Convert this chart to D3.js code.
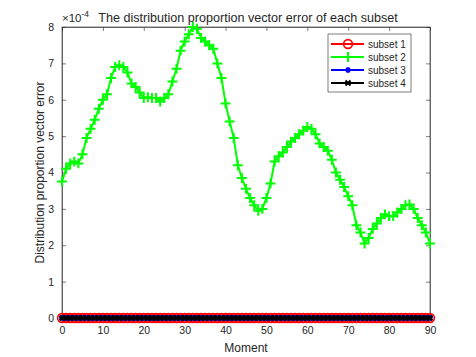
<!DOCTYPE html>
<html>
<head>
<meta charset="utf-8">
<script src="https://cdn.jsdelivr.net/npm/d3@7"></script>
<style>
  body { margin: 0; background: #fff; }
  text { font-family: "Liberation Sans", Arial, sans-serif; fill: #262626; }
</style>
</head>
<body>
<div id="chart"></div>
<script>
const margin = { top: 27, right: 46, bottom: 39, left: 62 },
      width = 476 - margin.left - margin.right,
      height = 357 - margin.top - margin.bottom;

// moments 0..90
const moments = d3.range(0, 91);
const xTicks = [0, 10, 20, 30, 40, 50, 60, 70, 80, 90];
const yTicks = [0, 1, 2, 3, 4, 5, 6, 7, 8];

// values in units of 1e-4
const subset1 = moments.map(() => 0);
const subset2 = [
  3.75, 4.1, 4.25, 4.3, 4.25, 4.5, 4.95, 5.2, 5.45, 5.75,
  6.0, 6.15, 6.6, 6.9, 6.95, 6.9, 6.75, 6.45, 6.35, 6.2,
  6.05, 6.07, 6.05, 6.05, 5.95, 6.05, 6.15, 6.5, 6.85, 7.35,
  7.6, 7.8, 8.0, 7.95, 7.7, 7.6, 7.5, 7.4, 7.0, 6.6,
  5.9, 5.4, 4.95, 4.2, 3.85, 3.55, 3.3, 3.1, 2.95, 3.0,
  3.3, 3.7, 4.3, 4.45, 4.55, 4.7, 4.85, 4.95, 5.05, 5.15,
  5.25, 5.2, 5.05, 4.8, 4.7, 4.6, 4.35, 4.0, 3.8, 3.6,
  3.35, 3.1, 2.55, 2.35, 2.05, 2.2, 2.45, 2.6, 2.75, 2.85,
  2.8, 2.8, 2.9, 3.0, 3.1, 3.12, 3.0, 2.75, 2.55, 2.35, 2.05
];
const subset3 = moments.map(() => 0);
const subset4 = moments.map(() => 0);

const seriesNames = ["subset 1", "subset 2", "subset 3", "subset 4"];
const seriesColors = ["#ff0000", "#00ff00", "#0000ff", "#000000"];

const series = [
  { name: seriesNames[0], values: subset1, color: seriesColors[0], marker: "circle" },
  { name: seriesNames[1], values: subset2, color: seriesColors[1], marker: "plus" },
  { name: seriesNames[2], values: subset3, color: seriesColors[2], marker: "asterisk" },
  { name: seriesNames[3], values: subset4, color: seriesColors[3], marker: "times" }
];

const x = d3.scaleLinear().domain([0, 90]).range([0, width]);
const y = d3.scaleLinear().domain([0, 8]).range([height, 0]);

const svg = d3.select("#chart").append("svg")
    .attr("width", 476)
    .attr("height", 357)
  .append("g")
    .attr("transform", "translate(" + margin.left + "," + margin.top + ")");

function markerPath(kind) {
  if (kind === "circle") return d3.symbol(d3.symbolCircle, 60)();
  if (kind === "plus") return d3.symbol(d3.symbolPlus, 34)();
  if (kind === "asterisk") return d3.symbol(d3.symbolAsterisk, 20)();
  return d3.symbol(d3.symbolTimes, 18)();
}

function drawMarker(sel, kind, color) {
  sel.attr("d", markerPath(kind))
    .attr("fill", kind === "asterisk" ? color : "none")
    .attr("stroke", color)
    .attr("stroke-width", kind === "circle" ? 1.6 : (kind === "asterisk" ? 2.5 : 2));
}

// axes (MATLAB style box with inward ticks)
const axisColor = "#262626";
const tl = 4;

svg.append("rect")
  .attr("width", width).attr("height", height)
  .attr("fill", "none").attr("stroke", axisColor).attr("stroke-width", 0.6);

const gx = svg.append("g")
  .attr("transform", "translate(0," + height + ")")
  .call(d3.axisBottom(x).tickValues(xTicks).tickSizeInner(-tl).tickSizeOuter(0).tickPadding(9));
const gy = svg.append("g")
  .call(d3.axisLeft(y).tickValues(yTicks).tickSizeInner(-tl).tickSizeOuter(0).tickPadding(8));
const gxTop = svg.append("g")
  .call(d3.axisTop(x).tickValues(xTicks).tickSizeInner(-tl).tickSizeOuter(0).tickFormat(""));
const gyRight = svg.append("g")
  .attr("transform", "translate(" + width + ",0)")
  .call(d3.axisRight(y).tickValues(yTicks).tickSizeInner(-tl).tickSizeOuter(0).tickFormat(""));

[gx, gy, gxTop, gyRight].forEach(g => {
  g.select(".domain").attr("stroke", axisColor).attr("stroke-width", 0.6);
  g.selectAll(".tick line").attr("stroke", axisColor).attr("stroke-width", 0.6);
  g.selectAll(".tick text").style("font-size", "10.5px").attr("fill", axisColor);
});

// lines and markers
const line = d3.line()
  .x((d, i) => x(moments[i]))
  .y(d => y(d));

series.forEach(s => {
  const g = svg.append("g");
  g.append("path")
    .datum(s.values)
    .attr("fill", "none")
    .attr("stroke", s.color)
    .attr("stroke-width", 2)
    .attr("d", line);
  g.selectAll("path.mk")
    .data(s.values)
    .join("path")
    .attr("class", "mk")
    .attr("transform", (d, i) => "translate(" + x(moments[i]) + "," + y(d) + ")")
    .call(drawMarker, s.marker, s.color);
});

// title and exponent
svg.append("text")
  .attr("x", width / 2 + 2)
  .attr("y", -5)
  .attr("text-anchor", "middle")
  .style("font-size", "12.6px")
  .text("The distribution proportion vector error of each subset");

const expo = svg.append("text")
  .attr("x", 0)
  .attr("y", -5)
  .style("font-size", "11.5px");
expo.append("tspan").text("×10");
expo.append("tspan").attr("dy", -5).style("font-size", "8.5px").text("-4");

// axis labels
svg.append("text")
  .attr("x", width / 2)
  .attr("y", height + 34)
  .attr("text-anchor", "middle")
  .style("font-size", "12px")
  .text("Moment");

svg.append("text")
  .attr("transform", "translate(-18," + (height / 2) + ") rotate(-90)")
  .attr("text-anchor", "middle")
  .style("font-size", "12px")
  .text("Distribution proportion vector error");

// legend
const legend = svg.append("g")
  .attr("transform", "translate(" + (328 - margin.left) + "," + (34 - margin.top) + ")");
legend.append("rect")
  .attr("width", 83).attr("height", 58)
  .attr("fill", "#fff").attr("stroke", axisColor).attr("stroke-width", 0.6);

series.forEach((s, i) => {
  const row = legend.append("g").attr("transform", "translate(0," + (10 + i * 13) + ")");
  row.append("line")
    .attr("x1", 3).attr("x2", 36)
    .attr("stroke", s.color).attr("stroke-width", 2);
  row.append("path")
    .attr("transform", "translate(20,0)")
    .call(drawMarker, s.marker, s.color);
  row.append("text")
    .attr("x", 40)
    .attr("dy", "0.35em")
    .style("font-size", "10px")
    .text(s.name);
});
</script>
</body>
</html>
